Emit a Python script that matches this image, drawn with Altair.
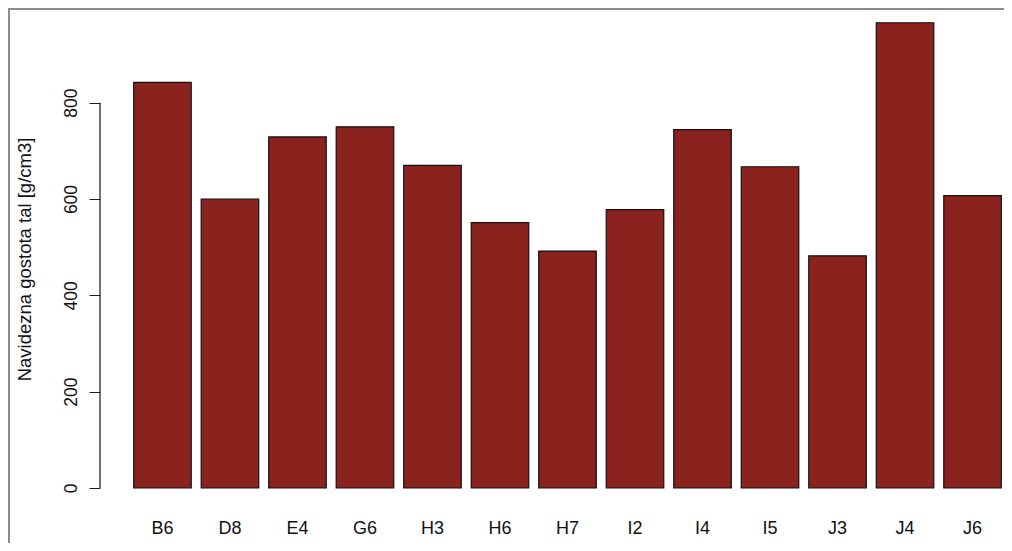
import altair as alt
import pandas as pd

sites = ["B6", "D8", "E4", "G6", "H3", "H6", "H7", "I2", "I4", "I5", "J3", "J4", "J6"]
density = [842, 600, 729, 750, 670, 551, 492, 578, 744, 667, 482, 966, 607]
y_ticks = [0, 200, 400, 600, 800]
y_title = "Navidezna gostota tal [g/cm3]"

df = pd.DataFrame({"site": sites, "value": density})
axis_df = pd.DataFrame({"lo": [min(y_ticks)], "hi": [max(y_ticks)]})

W, H = 873, 472
FONT = "Liberation Sans"

yscale = alt.Scale(domain=[0, 980], nice=False)

bars = alt.Chart(df).mark_bar(
    color="#8a231d", stroke="#111111", strokeWidth=1.2
).encode(
    x=alt.X("site:N", sort=sites,
            scale=alt.Scale(paddingInner=0.148, paddingOuter=0.04),
            axis=alt.Axis(title=None, ticks=False, domain=False, labelAngle=0,
                          labelFontSize=18, labelFont=FONT, labelColor="#111111",
                          labelPadding=31)),
    y=alt.Y("value:Q", scale=yscale,
            axis=alt.Axis(values=y_ticks, title=y_title, domain=False, grid=False,
                          offset=31, tickSize=11, tickColor="#222222", tickWidth=1,
                          labelAngle=270, labelAlign="center", labelBaseline="alphabetic",
                          labelPadding=13, labelFontSize=17.5, labelFont=FONT,
                          labelColor="#111111",
                          titleFont=FONT, titleFontSize=18.5, titleFontWeight="normal",
                          titleColor="#111111", titleAngle=270, titleAlign="center",
                          titleBaseline="alphabetic", titleX=-70, titleY=243)),
)

axis_line = alt.Chart(axis_df).mark_rule(color="#222222", strokeWidth=1.3).encode(
    x=alt.value(-31), y=alt.Y("lo:Q", scale=yscale), y2="hi:Q"
)

frame_top = alt.Chart(axis_df).mark_rule(color="#8c8c8c", strokeWidth=2).encode(
    x=alt.value(-123), x2=alt.value(W), y=alt.value(-7)
)
frame_left = alt.Chart(axis_df).mark_rule(color="#8c8c8c", strokeWidth=2).encode(
    x=alt.value(-122), y=alt.value(-8), y2=alt.value(H + 55)
)

chart = alt.layer(bars, axis_line, frame_top, frame_left).properties(
    width=W, height=H,
    autosize=alt.AutoSizeParams(type="none"),
    padding={"left": 123, "top": 8, "right": 0, "bottom": 55},
    background="white",
).configure_view(stroke=None)

chart.save("out.html", embed_options={"renderer": "svg", "actions": False})
